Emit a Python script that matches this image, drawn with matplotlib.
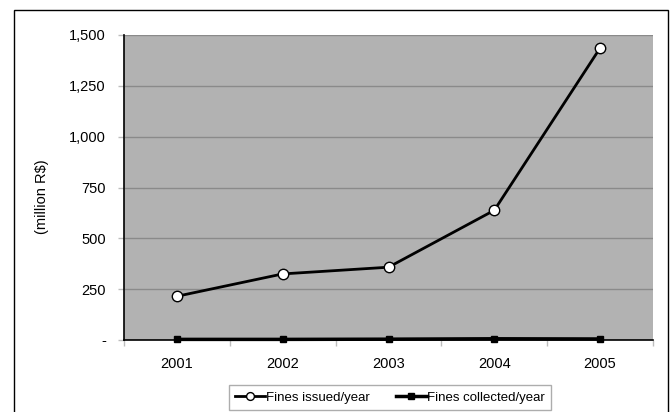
import matplotlib
matplotlib.use("Agg")
import matplotlib.pyplot as plt
from matplotlib.patches import Rectangle
from matplotlib.ticker import FixedLocator, FuncFormatter

plt.rcParams['font.family'] = ['Liberation Sans', 'DejaVu Sans']

years = ['2001', '2002', '2003', '2004', '2005']
fines_issued = [215, 325, 358, 638, 1436]
fines_collected = [3, 3, 4, 6, 5]
y_ticks = [0, 250, 500, 750, 1000, 1250, 1500]

W, H = 670, 412
fig = plt.figure(figsize=(W / 100, H / 100), dpi=100)
fig.patch.set_facecolor('white')

# outer chart frame (open at the bottom edge of the image)
fig.patches.append(Rectangle((14 / W, -0.2), (668 - 14) / W, 1.2 - 10 / H,
                             transform=fig.transFigure, fill=False,
                             edgecolor='black', linewidth=1.0))

ax = fig.add_axes([124 / W, (H - 340) / H, (653 - 124) / W, (340 - 35) / H])
ax.set_facecolor('#b2b2b2')

x = list(range(len(years)))
ax.plot(x, fines_issued, color='black', linewidth=2.0, marker='o',
        markersize=7.5, markerfacecolor='white', markeredgecolor='black',
        markeredgewidth=1.0, label='Fines issued/year', zorder=4)
ax.plot(x, fines_collected, color='black', linewidth=2.5, marker='s',
        markersize=5, markerfacecolor='black', markeredgecolor='black',
        label='Fines collected/year', zorder=4, clip_on=False)

ax.set_xlim(-0.5, len(years) - 0.5)
ax.set_ylim(0, 1500)

ax.yaxis.set_major_locator(FixedLocator(y_ticks))
ax.yaxis.set_major_formatter(FuncFormatter(lambda v, p: '-' if v == 0 else f'{int(v):,}'))
ax.grid(axis='y', color='#8a8a8a', linewidth=1.0, zorder=1)
ax.set_axisbelow(True)

ax.set_xticks([i + 0.5 for i in range(-1, len(years))])
ax.set_xticklabels([])
ax.set_xticks(x, minor=True)
ax.set_xticklabels(years, minor=True)
ax.tick_params(axis='x', which='major', length=4, color='#bdbdbd', width=1)
ax.tick_params(axis='x', which='minor', length=0, pad=12, labelsize=10.5)
ax.tick_params(axis='y', length=4, color='#bdbdbd', width=1, labelsize=10.5, pad=9)

for s in ['top', 'right']:
    ax.spines[s].set_visible(False)
ax.spines['left'].set_color('black')
ax.spines['left'].set_linewidth(1.2)
ax.spines['bottom'].set_color('black')
ax.spines['bottom'].set_linewidth(1.2)

fig.text(42 / W, 1 - 197 / H, '(million R$)', rotation=90, ha='center',
         va='center', fontsize=10.5)

leg = fig.legend(loc='center', bbox_to_anchor=(390 / W, 1 - 397.5 / H), ncol=2,
                 frameon=True, fancybox=False, fontsize=9.5, handlelength=2.3,
                 handletextpad=0.05, columnspacing=2.0, borderpad=0.45,
                 borderaxespad=0, markerscale=0.75, edgecolor='#999999')
leg.get_frame().set_linewidth(1.0)

fig.savefig('out.png', dpi=100, facecolor='white')
